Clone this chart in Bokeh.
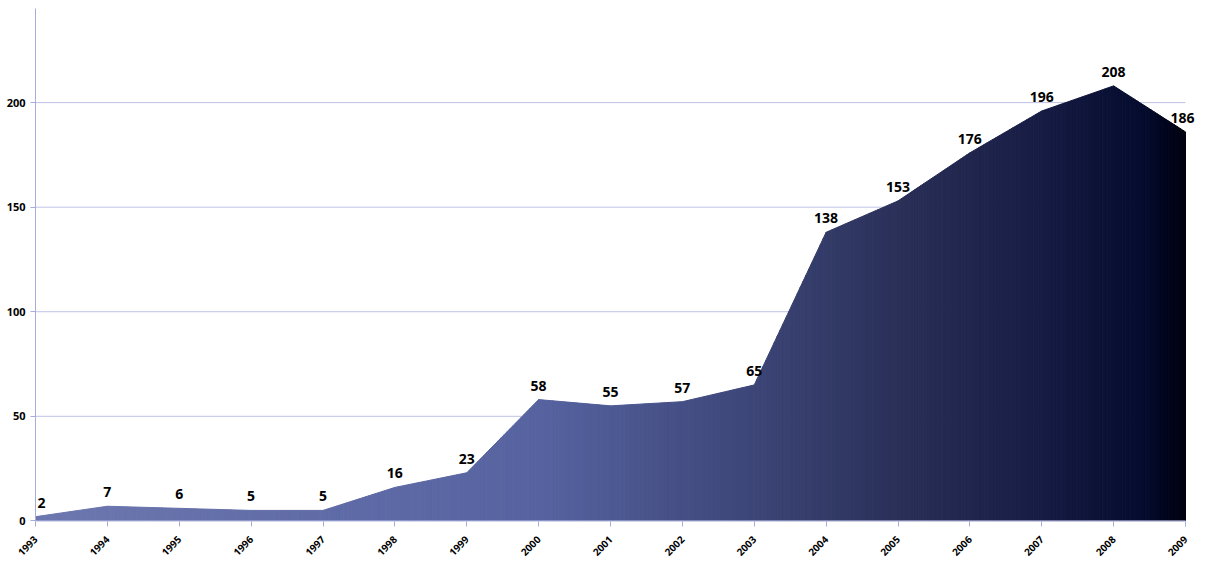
import numpy as np
from math import pi
from bokeh.plotting import figure
from bokeh.models import ColumnDataSource, Range1d, FixedTicker, LabelSet
from bokeh.core.properties import value
from bokeh.embed import file_html
from bokeh.resources import INLINE

# ---- data ----
years = [1993, 1994, 1995, 1996, 1997, 1998, 1999, 2000, 2001,
         2002, 2003, 2004, 2005, 2006, 2007, 2008, 2009]
counts = [2, 7, 6, 5, 5, 16, 23, 58, 55, 57, 65, 138, 153, 176, 196, 208, 186]
y_ticks = [0, 50, 100, 150, 200]

# ---- style ----
grad_pos = [0.0, 0.44, 0.62, 0.75, 0.88, 0.965, 1.0]
grad_col = ["#6D77AF", "#5663A0", "#3D4678", "#2A3058", "#151B42", "#040B2D", "#00000F"]
axis_col = "#A7ADDA"
grid_col = "#BEC2E4"
font = "Open Sans"


def hex2rgb(h):
    h = h.lstrip("#")
    return np.array([int(h[i:i + 2], 16) for i in (0, 2, 4)], dtype=float)


stops = np.array([hex2rgb(c) for c in grad_col])


def grad_color(f):
    rgb = [np.interp(f, grad_pos, stops[:, k]) for k in range(3)]
    return "#%02x%02x%02x" % tuple(int(round(v)) for v in rgb)


x0, x1 = years[0], years[-1]
# frame runs a little past the last year so the last value label is not clipped
px_per_year = 1150 / (x1 - x0)
x_end = x1 + 15 / px_per_year
p = figure(width=1217, height=583, x_range=Range1d(x0, x_end), y_range=Range1d(-0.3, 245),
           output_backend="svg", toolbar_location=None,
           min_border_left=35, min_border_right=17, min_border_top=8, min_border_bottom=62)
p.outline_line_color = None
p.background_fill_color = "white"
p.border_fill_color = "white"

# gridlines, limited to the data span
grid_y = y_ticks[1:]
p.segment(x0=[x0] * len(grid_y), x1=[x1] * len(grid_y), y0=grid_y, y1=grid_y,
          line_color=grid_col, line_width=1)

# gradient area drawn as thin vertical slices of the piecewise-linear area
n = 400
edges = np.linspace(x0, x1, n + 1)
tops = np.interp(edges, years, counts)
xs, ys, cols = [], [], []
for i in range(n):
    a, b = edges[i], edges[i + 1]
    xs.append([a, b, b, a])
    ys.append([0, 0, tops[i + 1], tops[i]])
    cols.append(grad_color(((a + b) / 2 - x0) / (x1 - x0)))
p.patches(xs, ys, fill_color=cols, line_color=cols, line_width=1.0)

# x axis line, limited to the data span
p.segment(x0=[x0], x1=[x1], y0=[0], y1=[0], line_color=axis_col, line_width=1)

# value labels
offs = [0] * len(years)
offs[0] = 6
offs[-1] = -3
src = ColumnDataSource(dict(x=years, y=counts, t=[str(c) for c in counts], xo=offs))
labels = LabelSet(x="x", y="y", text="t", source=src, x_offset="xo", y_offset=14,
                  text_align="center", text_baseline="middle", text_font=value(font),
                  text_font_style="bold", text_font_size="14px", text_color="#000000")
p.add_layout(labels)

# axes
p.xaxis.ticker = FixedTicker(ticks=years)
p.xaxis.major_label_orientation = pi / 4
p.xaxis.major_label_standoff = 11
p.xaxis.major_label_text_font = font
p.xaxis.major_label_text_font_style = "bold"
p.xaxis.major_label_text_font_size = "10px"
p.xaxis.major_label_text_color = "#000000"
p.xaxis.axis_line_color = None
p.xaxis.major_tick_line_color = axis_col
p.xaxis.major_tick_out = 5
p.xaxis.major_tick_in = 0
p.xaxis.minor_tick_line_color = None

p.yaxis.ticker = FixedTicker(ticks=y_ticks)
p.yaxis.major_label_text_font = font
p.yaxis.major_label_text_font_style = "bold"
p.yaxis.major_label_text_font_size = "11px"
p.yaxis.major_label_text_color = "#000000"
p.yaxis.axis_line_color = axis_col
p.yaxis.major_tick_line_color = axis_col
p.yaxis.major_tick_out = 5
p.yaxis.major_tick_in = 0
p.yaxis.minor_tick_line_color = None

p.xgrid.grid_line_color = None
p.ygrid.grid_line_color = None

open("out.html", "w").write(file_html(p, INLINE))
